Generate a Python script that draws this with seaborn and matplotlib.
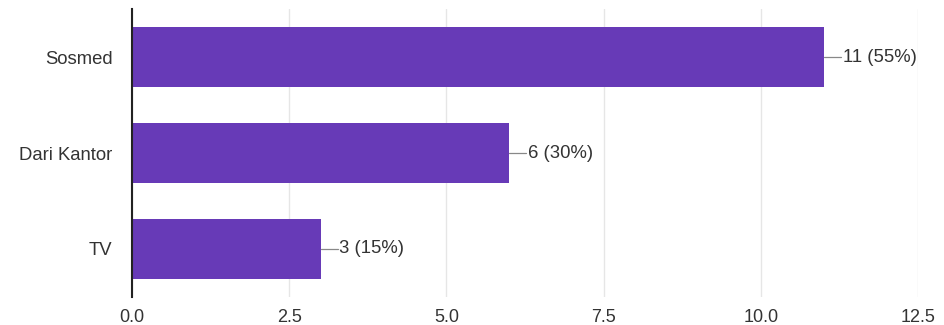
import matplotlib
matplotlib.use("Agg")
import matplotlib.pyplot as plt
import seaborn as sns
import pandas as pd

categories = ["Sosmed", "Dari Kantor", "TV"]
values = [11, 6, 3]
percent_labels = ["55%", "30%", "15%"]
xticks = [0.0, 2.5, 5.0, 7.5, 10.0, 12.5]

df = pd.DataFrame({"cat": categories, "val": values})

sns.set_style("white")
plt.rcParams['font.family'] = ['Liberation Sans', 'DejaVu Sans']

fig = plt.figure(figsize=(9.44, 3.25), dpi=100)
ax = fig.add_axes([0.1398, 0.0862, 0.8327, 0.886])
sns.barplot(data=df, x="val", y="cat", color="#673ab7", saturation=1, width=0.62, ax=ax,
            edgecolor="none")
ax.set_xlim(0, 12.5)
ax.set_ylim(2.5, -0.5)
ax.set_xticks(xticks)
ax.set_xticklabels([f"{t:.1f}" for t in xticks], fontsize=13, color="#333333")
ax.tick_params(axis="y", labelsize=13.3, colors="#333333", length=0, pad=14)
ax.tick_params(axis="x", length=0, pad=9)
ax.set_xlabel("")
ax.set_ylabel("")
ax.grid(axis="x", color="#e6e6e6", linewidth=1)
ax.set_axisbelow(True)
for s in ["top", "right", "bottom"]:
    ax.spines[s].set_visible(False)
ax.spines["left"].set_color("#222222")
ax.spines["left"].set_linewidth(1.5)

for i, (v, p) in enumerate(zip(values, percent_labels)):
    ax.plot([v, v + 0.27], [i, i], color="#888888", linewidth=0.9)
    ax.text(v + 0.3, i, f"{v} ({p})", va="center", ha="left", fontsize=13.3, color="#333333")

fig.savefig("out.png", dpi=100)
